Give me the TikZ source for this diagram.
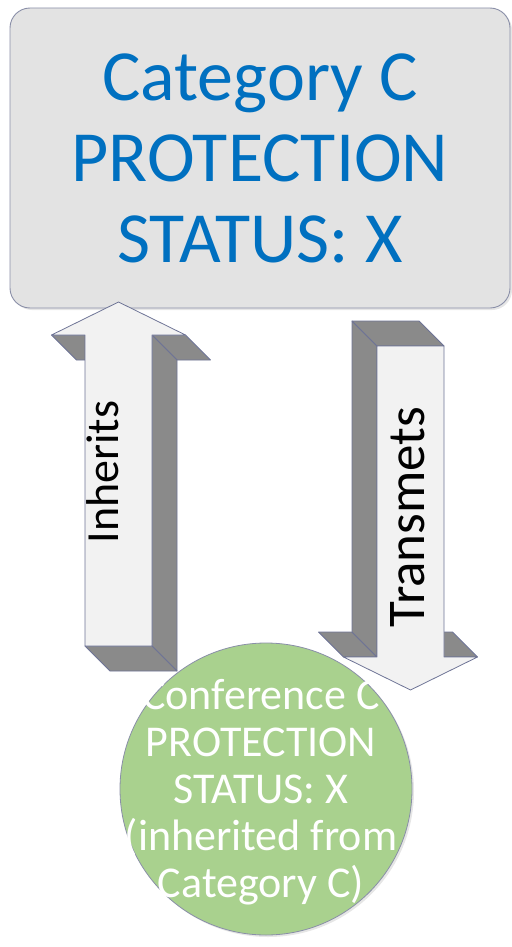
\documentclass[tikz,border=0pt]{standalone}
\usepackage{fontspec}
\setmainfont{Carlito}
\usepackage{xcolor}
\usetikzlibrary{shadows}
\definecolor{ctgray}{HTML}{E3E3E3}
\definecolor{ctline}{HTML}{8A8FA8}
\definecolor{ctblue}{HTML}{0070C0}
\definecolor{ctfront}{HTML}{F2F2F2}
\definecolor{ctside}{HTML}{8A8A8A}
\definecolor{ctedge}{HTML}{6E7496}
\definecolor{ctgreen}{HTML}{A9D18E}

\begin{document}
\begin{tikzpicture}[x=1pt, y=-1pt,
  edge/.style={draw=ctedge, line width=0.8pt, line join=round},
  blockarrow/.pic={
    % back faces first, front face on top
    \filldraw[edge, fill=ctside] (-67,33) -- (-33.5,33) -- (-8.5,58) -- (-42,58) -- cycle;
    \filldraw[edge, fill=ctside] (33.5,33) -- (67,33) -- (92,58) -- (58.5,58) -- cycle;
    \filldraw[edge, fill=ctside] (33.5,33) -- (58.5,58) -- (58.5,369) -- (33.5,344) -- cycle;
    \filldraw[edge, fill=ctside] (-33.5,344) -- (33.5,344) -- (58.5,369) -- (-8.5,369) -- cycle;
    \filldraw[edge, fill=ctfront] (0,0) -- (67,33) -- (33.5,33) -- (33.5,344) -- (-33.5,344) -- (-33.5,33) -- (-67,33) -- cycle;
  }]
  \useasboundingbox (0,0) rectangle (511,947);

  \node[draw=ctline, line width=0.9pt, fill=ctgray, rounded corners=20pt, minimum width=500pt, minimum height=300pt, drop shadow={opacity=0.2, shadow xshift=2pt, shadow yshift=-2pt}, align=center, font=\fontsize{72}{81}\selectfont, text=ctblue] (cat) at (260,158) {Category C\\PROTECTION\\STATUS: X};

  \node[circle, draw=ctline, line width=0.8pt, fill=ctgreen, minimum size=292pt, inner sep=0pt, drop shadow={opacity=0.2, shadow xshift=2pt, shadow yshift=-2pt}, label={[name=conftxt, align=center, font=\fontsize{44}{47}\selectfont, text=white, xshift=-5pt, yshift=-3pt]center:{Conference C\\PROTECTION\\STATUS: X\\(inherited from\\Category C)}}] (conf) at (266,789) {};

  % inherits goes up, transmets comes down
  \pic (inh) at (118.5,302) {blockarrow};
  \pic[rotate=180] (trm) at (410.5,690) {blockarrow};

  \node[rotate=90, font=\fontsize{46}{50}\selectfont] (inhtxt) at (103,472) {Inherits};
  \node[rotate=90, font=\fontsize{53}{55}\selectfont] (trmtxt) at (408,517) {Transmets};
\end{tikzpicture}
\end{document}
